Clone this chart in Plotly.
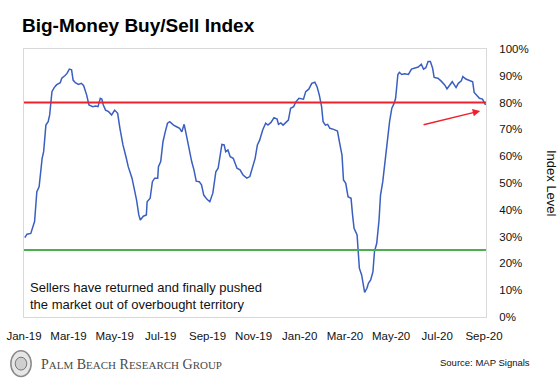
import plotly.graph_objects as go

# ---- data ----
dates = [
    "2019-01-02", "2019-01-05", "2019-01-10", "2019-01-13", "2019-01-15", "2019-01-18", "2019-01-21", "2019-01-25", "2019-01-27", "2019-01-30",
    "2019-02-02", "2019-02-04", "2019-02-07", "2019-02-10", "2019-02-13", "2019-02-18", "2019-02-20", "2019-02-24", "2019-02-27",
    "2019-03-02", "2019-03-05", "2019-03-07", "2019-03-10", "2019-03-14", "2019-03-18", "2019-03-21", "2019-03-25", "2019-03-28",
    "2019-04-02", "2019-04-06", "2019-04-09", "2019-04-12", "2019-04-14", "2019-04-16", "2019-04-19", "2019-04-23", "2019-04-27",
    "2019-05-01", "2019-05-05", "2019-05-08", "2019-05-12", "2019-05-16", "2019-05-19", "2019-05-24", "2019-05-27", "2019-05-30",
    "2019-06-02", "2019-06-04", "2019-06-08", "2019-06-12", "2019-06-13", "2019-06-17", "2019-06-20", "2019-06-23", "2019-06-27", "2019-06-28",
    "2019-07-01", "2019-07-04", "2019-07-07", "2019-07-10", "2019-07-13", "2019-07-18", "2019-07-22", "2019-07-26", "2019-07-29",
    "2019-08-01", "2019-08-04", "2019-08-08", "2019-08-11", "2019-08-14", "2019-08-17", "2019-08-21", "2019-08-24", "2019-08-27", "2019-08-31",
    "2019-09-04", "2019-09-08", "2019-09-12", "2019-09-15", "2019-09-20", "2019-09-23", "2019-09-25", "2019-09-28",
    "2019-10-01", "2019-10-05", "2019-10-10", "2019-10-14", "2019-10-18", "2019-10-23", "2019-10-27", "2019-10-31",
    "2019-11-03", "2019-11-06", "2019-11-09", "2019-11-13", "2019-11-17", "2019-11-20", "2019-11-24", "2019-11-28",
    "2019-12-02", "2019-12-04", "2019-12-07", "2019-12-10", "2019-12-14", "2019-12-17", "2019-12-20", "2019-12-24", "2019-12-27", "2019-12-31",
    "2020-01-06", "2020-01-09", "2020-01-13", "2020-01-17", "2020-01-21", "2020-01-24", "2020-01-27", "2020-01-30",
    "2020-02-01", "2020-02-04", "2020-02-07", "2020-02-10", "2020-02-15", "2020-02-20", "2020-02-23", "2020-02-26", "2020-02-28",
    "2020-03-02", "2020-03-05", "2020-03-09", "2020-03-11", "2020-03-13", "2020-03-17", "2020-03-19", "2020-03-20", "2020-03-23", "2020-03-25", "2020-03-27", "2020-03-30",
    "2020-04-01", "2020-04-04", "2020-04-07", "2020-04-09", "2020-04-12", "2020-04-15", "2020-04-17", "2020-04-20", "2020-04-23", "2020-04-27", "2020-04-29",
    "2020-05-02", "2020-05-05", "2020-05-07", "2020-05-10", "2020-05-12", "2020-05-15", "2020-05-19", "2020-05-24", "2020-05-28",
    "2020-06-02", "2020-06-06", "2020-06-10", "2020-06-13", "2020-06-16", "2020-06-19", "2020-06-22", "2020-06-25", "2020-06-27",
    "2020-07-02", "2020-07-06", "2020-07-11", "2020-07-14", "2020-07-18", "2020-07-21", "2020-07-26", "2020-07-29",
    "2020-08-02", "2020-08-04", "2020-08-08", "2020-08-12", "2020-08-17", "2020-08-19", "2020-08-23", "2020-08-26", "2020-08-30",
    "2020-09-02", "2020-09-03",
]

index_level = [
    29.6, 30.9, 31.2, 34.3, 35.6, 46.8, 48.6, 59.2, 61.7, 71.6,
    72.9, 75.4, 84.1, 85.6, 86.6, 87.4, 89.1, 90.0, 90.9,
    92.5, 92.2, 88.4, 87.4, 86.8, 87.2, 86.3, 82.8, 79.1,
    78.5, 78.7, 78.5, 81.6, 81.3, 79.1, 77.2, 76.6, 75.4,
    77.2, 76.0, 70.4, 64.2, 59.8, 56.1, 51.8, 48.0, 43.7,
    38.1, 36.2, 37.6, 38.1, 43.0, 44.3, 50.5, 51.8, 51.8, 56.1,
    58.0, 65.4, 69.1, 72.3, 72.9, 71.6, 71.0, 70.4, 69.1,
    71.9, 67.9, 61.7, 58.0, 54.9, 50.7, 50.5, 49.3, 45.5, 44.0,
    43.0, 46.2, 54.2, 55.5, 64.4, 64.2, 61.7, 62.3,
    59.8, 59.2, 55.5, 54.9, 53.0, 51.8, 52.4, 56.1,
    59.2, 64.2, 66.0, 69.8, 72.3, 71.6, 72.6, 74.4,
    73.9, 71.9, 72.4, 71.6, 72.9, 73.5, 77.9, 78.5, 80.3, 81.6,
    81.3, 84.1, 85.0, 87.2, 87.6, 85.9, 82.8, 78.5,
    72.9, 71.6, 71.9, 70.4, 70.0, 69.4, 64.8, 60.4, 51.1,
    49.9, 44.9, 44.3, 38.1, 33.1, 30.6, 23.1, 18.2, 15.7, 11.9, 9.2, 10.7,
    12.6, 13.8, 16.9, 24.4, 27.5, 36.0, 45.5, 50.5, 58.6, 66.7, 72.9,
    77.9, 79.7, 81.6, 90.5, 91.3, 90.5, 90.8, 90.5, 92.5,
    93.0, 93.3, 94.3, 92.5, 93.0, 95.3, 95.3, 92.8, 89.4,
    89.1, 88.1, 86.6, 85.1, 86.8, 87.8, 85.6, 87.2,
    88.1, 89.7, 88.8, 88.4, 87.8, 83.8, 82.6, 81.6, 81.3,
    80.0, 79.1,
]

overbought_level = 80
oversold_level = 25
x_range = ["2019-01-01", "2020-09-03 16:00"]
y_ticks = [0, 10, 20, 30, 40, 50, 60, 70, 80, 90, 100]

title_text = "Big-Money Buy/Sell Index"
note_text = "Sellers have returned and finally pushed<br>the market out of overbought territory"
source_text = "Source: MAP Signals"
axis_title = "Index Level"

FONT = "Liberation Sans, Arial, Helvetica, sans-serif"

fig = go.Figure()
fig.add_trace(go.Scatter(
    x=dates, y=index_level, mode="lines",
    line=dict(color="#3a5fc0", width=1.5),
    showlegend=False, hoverinfo="skip",
))

shapes = [
    dict(type="line", xref="paper", x0=0, x1=1, yref="y", y0=overbought_level, y1=overbought_level,
         line=dict(color="#f0202c", width=2)),
    dict(type="line", xref="paper", x0=0, x1=1, yref="y", y0=oversold_level, y1=oversold_level,
         line=dict(color="#4cae50", width=2)),
    # small crest logo in the footer
    dict(type="circle", xref="paper", yref="paper", x0=-0.0285, x1=0.0155, y0=-0.222, y1=-0.126,
         line=dict(color="#8a8a8a", width=1.5), fillcolor="#e6e6e6", layer="above"),
    dict(type="circle", xref="paper", yref="paper", x0=-0.019, x1=0.006, y0=-0.198, y1=-0.150,
         line=dict(color="#777777", width=1), fillcolor="#cfcfcf", layer="above"),
]

sc_big = "font-size:14px"
sc_small = "font-size:11px"
pbrg = (f"<span style='{sc_big}'>P</span><span style='{sc_small}'>ALM</span> "
        f"<span style='{sc_big}'>B</span><span style='{sc_small}'>EACH</span> "
        f"<span style='{sc_big}'>R</span><span style='{sc_small}'>ESEARCH</span> "
        f"<span style='{sc_big}'>G</span><span style='{sc_small}'>ROUP</span>")

annotations = [
    dict(text=note_text, xref="paper", yref="paper", x=0.0087, y=0.080,
         xanchor="left", yanchor="middle", align="left", showarrow=False,
         font=dict(family=FONT, size=13, color="#111111")),
    dict(text="", xref="x", yref="y", x="2020-08-27", y=76.9,
         axref="x", ayref="y", ax="2020-06-11", ay=71.6,
         showarrow=True, arrowhead=2, arrowsize=1, arrowwidth=1.5, arrowcolor="#f0202c"),
    dict(text=axis_title, xref="paper", yref="paper", x=1.1429, y=0.5,
         xanchor="center", yanchor="middle", textangle=90, showarrow=False,
         font=dict(family=FONT, size=13, color="#111111")),
    dict(text=source_text, xref="paper", yref="paper", x=1.0996, y=-0.1716,
         xanchor="right", yanchor="middle", showarrow=False,
         font=dict(family=FONT, size=9.5, color="#111111")),
    dict(text=pbrg, xref="paper", yref="paper", x=0.032, y=-0.176,
         xanchor="left", yanchor="middle", showarrow=False,
         font=dict(family="Liberation Serif, Times New Roman, serif", size=14, color="#4a4a4a")),
]

fig.update_layout(
    template="none",
    width=560, height=380, autosize=False,
    margin=dict(l=24, r=74, t=49, b=63, pad=0),
    paper_bgcolor="white", plot_bgcolor="white",
    title=dict(text=f"<b>{title_text}</b>", x=22 / 560, xanchor="left", xref="container",
               y=1 - 25 / 380, yanchor="middle", yref="container",
               font=dict(family=FONT, size=19, color="#000000")),
    xaxis=dict(type="date", range=x_range, tick0="2019-01-01", dtick="M2", tickformat="%b-%y",
               automargin=False,
               showgrid=False, zeroline=False, showline=True, mirror=True,
               linecolor="#d9d9d9", linewidth=1,
               ticks="outside", ticklen=8, tickcolor="rgba(0,0,0,0)",
               tickfont=dict(family=FONT, size=11.5, color="#111111")),
    yaxis=dict(side="right", range=[0, 100], tickvals=y_ticks,
               ticktext=[f"{v}%" for v in y_ticks], automargin=False,
               showgrid=False, zeroline=False, showline=True, mirror=True,
               linecolor="#d9d9d9", linewidth=1,
               ticks="outside", ticklen=10, tickcolor="rgba(0,0,0,0)",
               tickfont=dict(family=FONT, size=11.5, color="#111111")),
    shapes=shapes,
    annotations=annotations,
)

fig.write_html(
    "out.html",
    config={"displayModeBar": False, "staticPlot": True},
    post_script="document.body.style.margin='0';document.body.style.overflow='hidden';",
)
